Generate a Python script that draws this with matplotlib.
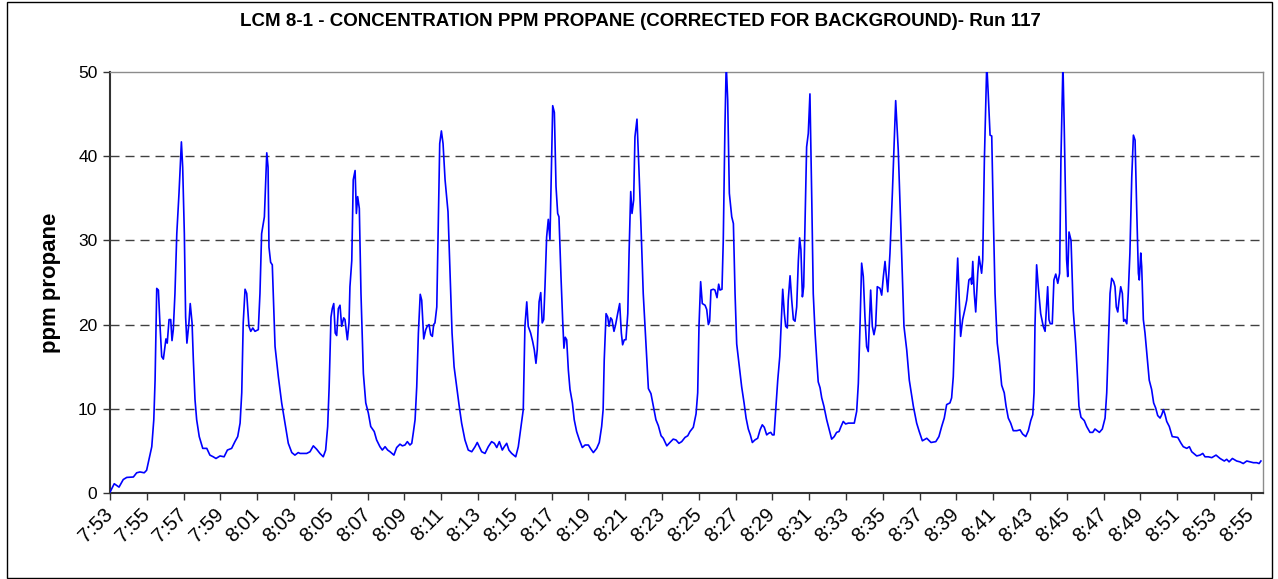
import matplotlib
matplotlib.use("Agg")
import matplotlib.pyplot as plt
from matplotlib.patches import Rectangle
from matplotlib.transforms import ScaledTranslation

# minutes after 7:53
t_min = [
0.00,0.23,0.49,0.72,0.91,1.27,1.45,1.63,1.86,1.99,2.27,2.38,2.45,2.54,2.63,2.72,2.81,2.90,2.99,3.04,
3.11,3.21,3.30,3.37,3.44,3.53,3.63,3.75,3.88,3.95,4.04,4.11,4.18,4.29,4.36,4.46,4.53,4.62,4.71,4.85,
5.04,5.26,5.43,5.61,5.76,5.98,6.20,6.38,6.61,6.79,6.94,7.07,7.16,7.24,7.34,7.43,7.55,7.65,7.76,7.88,
8.06,8.15,8.24,8.39,8.52,8.59,8.64,8.73,8.82,8.97,9.15,9.33,9.51,9.69,9.88,10.05,
10.23,10.33,10.69,10.87,11.05,11.23,11.41,11.59,11.72,11.83,11.91,12.01,12.08,12.16,12.24,12.32,12.41,12.50,12.59,12.70,
12.77,12.90,12.99,13.04,13.14,13.22,13.32,13.39,13.46,13.55,13.64,13.77,13.90,14.04,14.17,14.36,14.49,14.67,14.80,14.95,
15.09,15.22,15.43,15.58,15.76,15.89,16.03,16.16,16.30,16.40,16.48,16.58,16.67,16.76,16.86,16.94,17.05,17.16,17.24,17.34,
17.43,17.52,17.59,17.66,17.76,17.84,17.92,18.01,18.10,18.21,18.37,18.48,18.59,18.70,18.84,18.98,19.11,19.29,19.47,19.66,
19.84,19.96,20.07,20.20,20.38,
20.56,20.74,20.89,21.02,21.16,21.32,21.43,21.56,21.68,21.83,22.05,22.19,22.34,22.46,22.55,22.65,22.73,22.86,22.97,23.06,
23.15,23.22,23.32,23.41,23.49,23.57,23.64,23.73,23.82,23.91,23.98,24.06,24.15,24.24,24.33,24.40,24.51,24.60,24.67,24.74,
24.82,24.91,25.00,25.13,25.23,25.36,25.51,25.67,25.82,26.00,26.14,26.27,26.45,26.59,26.72,26.80,26.86,26.96,27.05,27.12,
27.21,27.28,27.39,27.48,27.59,27.70,27.79,27.86,27.95,28.04,28.14,28.21,28.30,28.37,28.46,28.53,28.64,28.75,28.86,28.98,
29.11,29.26,29.40,29.53,29.67,29.80,29.95,30.07,30.26,30.43,30.61,30.76,
30.92,31.07,31.25,31.40,31.52,31.70,31.85,31.94,32.01,32.10,32.19,32.34,32.43,32.52,32.59,32.66,32.79,32.88,32.99,33.08,
33.15,33.26,33.33,33.42,33.49,33.57,33.66,33.79,33.88,33.97,34.06,34.18,34.33,34.46,34.57,34.69,34.80,34.91,35.05,35.20,
35.33,35.45,35.56,35.69,35.80,35.91,36.00,36.09,36.18,36.29,36.40,36.47,36.56,36.65,36.72,36.81,36.86,36.96,37.05,37.14,
37.23,37.32,37.41,37.48,37.55,37.63,37.70,37.77,37.86,37.95,38.04,38.14,38.22,38.32,38.41,38.49,38.59,38.68,38.80,38.95,
39.09,39.22,39.36,39.49,39.62,39.73,39.85,39.98,40.13,40.31,40.45,40.58,40.67,40.76,40.85,40.94,41.03,41.12,41.21,41.34,
41.43,41.52,41.61,41.70,41.85,41.94,42.03,42.12,42.27,42.39,42.52,42.70,42.84,42.99,43.15,43.30,43.44,43.66,43.84,43.98,
44.15,44.39,44.62,44.88,45.05,45.20,45.34,45.47,45.65,45.74,45.83,45.92,46.07,46.23,46.34,46.47,46.56,46.68,46.78,46.83,
46.89,46.97,47.05,47.16,47.23,47.37,47.43,47.52,47.65,47.73,47.83,47.92,48.00,48.10,48.22,48.33,48.46,48.60,48.70,48.82,
48.95,49.09,49.28,49.46,49.60,49.77,49.91,50.04,50.15,50.22,50.27,50.36,50.45,50.58,50.72,50.82,50.91,50.96,51.03,51.10,
51.21,51.30,51.40,51.51,51.61,
51.68,51.79,51.86,51.94,51.99,52.05,52.12,52.23,52.35,52.48,52.59,52.66,52.77,52.95,53.08,53.26,53.41,53.53,53.77,53.93,
54.08,54.17,54.26,54.35,54.44,54.55,54.62,54.69,54.77,54.84,54.93,55.02,55.09,55.16,55.26,55.34,55.43,55.53,55.62,55.71,
55.80,55.89,55.94,56.02,56.07,56.16,56.25,56.38,56.48,56.61,56.72,56.83,56.94,57.07,57.16,57.25,57.34,57.43,57.57,57.73,
58.03,58.21,58.33,58.52,58.66,58.79,59.06,59.24,59.39,59.51,59.69,59.88,60.11,60.33,60.56,60.69,60.82,61.00,61.23,61.41,
61.59,61.78,61.96,62.14,62.32,62.45,62.55,
]

ppm = [
0.1,1.1,0.7,1.6,1.85,1.9,2.4,2.5,2.4,2.7,5.5,8.7,13.4,24.3,24.1,19.8,16.2,15.9,17.4,18.3,
17.8,20.6,20.6,18.1,19.4,23.7,30.8,35.6,41.7,38.7,30.8,20.9,17.8,20.2,22.5,20.2,15.8,11.1,8.7,6.7,
5.3,5.3,4.5,4.3,4.1,4.4,4.3,5.1,5.3,6.1,6.7,8.3,11.9,20.2,24.2,23.7,19.8,19.2,19.6,19.2,
19.4,23.7,30.8,32.8,40.4,38.7,29.2,27.4,27.1,17.4,13.8,10.7,8.3,5.9,4.8,4.5,
4.8,4.7,4.7,4.9,5.6,5.2,4.7,4.3,5.1,7.9,12.6,20.9,21.9,22.5,19.0,18.7,21.9,22.3,19.8,20.8,
20.6,18.2,20.2,24.5,27.6,37.2,38.3,33.2,35.2,33.8,23.7,14.2,10.7,9.5,7.9,7.3,6.3,5.5,5.1,5.5,
5.1,4.9,4.5,5.4,5.8,5.6,5.7,6.1,5.7,5.9,7.1,8.7,12.6,19.0,23.6,22.9,18.3,19.4,19.8,20.0,
18.8,18.6,20.0,20.2,22.1,31.6,41.5,43.0,41.5,37.2,33.4,26.1,19.0,15.0,12.6,10.3,8.3,6.3,5.1,4.9,
5.5,6.0,5.5,4.9,4.7,
5.5,6.1,5.9,5.4,6.1,5.1,5.5,5.9,5.1,4.7,4.3,5.5,7.9,9.9,19.8,22.7,19.8,19.0,18.0,17.0,
15.4,17.0,22.7,23.8,20.2,20.6,24.5,30.4,32.5,30.1,37.5,46.0,45.2,36.4,33.2,32.8,25.7,20.6,17.2,18.5,
18.2,14.6,12.3,10.7,8.7,7.3,6.3,5.4,5.7,5.7,5.2,4.8,5.3,6.0,7.9,9.9,15.8,21.3,20.9,19.8,
20.8,20.6,19.2,20.0,21.3,22.5,19.0,17.6,18.2,18.2,21.3,28.5,35.8,33.2,34.8,42.3,44.4,38.3,31.6,23.7,
18.5,12.4,11.8,10.3,8.7,8.0,6.8,6.5,5.6,6.0,6.4,6.3,
5.9,6.1,6.6,6.8,7.3,7.8,9.4,11.9,19.8,25.1,22.5,22.3,21.8,20.0,20.4,24.1,24.2,24.1,23.2,24.8,
24.1,24.2,30.0,43.4,51.0,46.7,35.6,32.8,32.0,23.7,17.7,15.4,12.6,10.7,8.9,7.6,6.9,6.0,6.3,6.5,
7.5,8.1,7.8,6.9,7.1,7.2,6.9,6.9,9.9,13.4,16.2,19.8,24.2,21.3,19.8,19.6,22.9,25.8,22.9,20.6,
20.4,22.1,27.6,30.3,28.9,23.3,24.5,31.6,41.1,42.7,47.4,34.8,23.7,19.0,15.8,13.2,12.5,11.3,10.3,8.7,
7.5,6.4,6.7,7.2,7.3,7.9,8.5,8.2,8.3,8.3,8.3,9.7,13.0,19.8,27.3,25.7,20.9,17.4,16.8,24.1,
19.8,18.8,19.8,24.5,24.3,23.5,25.7,27.5,23.9,28.5,35.6,46.6,40.7,30.8,19.8,17.0,13.4,10.3,8.3,7.3,
6.2,6.5,6.0,6.1,6.7,7.9,8.9,10.5,10.7,11.3,13.8,19.8,27.9,18.6,20.6,21.9,22.9,25.3,25.5,24.8,
27.5,23.7,21.5,26.1,28.1,26.1,27.7,39.5,51.0,47.4,42.5,42.4,33.6,23.7,17.8,15.8,12.8,11.9,10.3,8.9,
8.3,7.4,7.4,7.5,7.0,6.7,7.4,8.6,9.3,11.9,19.8,27.1,24.5,21.3,19.8,19.2,22.5,24.5,20.6,20.1,
20.1,25.3,26.0,24.9,26.1,
39.5,51.0,43.5,33.6,27.7,25.7,31.0,30.0,21.7,17.8,13.4,10.3,9.0,8.6,7.9,7.2,7.2,7.6,7.2,7.6,
8.9,11.9,17.8,23.7,25.5,25.1,24.5,22.1,21.5,22.9,24.5,23.7,20.4,20.6,20.1,23.7,28.5,37.5,42.5,41.9,
33.6,26.1,25.3,28.5,26.9,20.6,19.0,15.8,13.4,12.3,10.7,10.1,9.2,8.9,9.3,9.9,9.3,8.5,7.9,6.7,
6.6,5.9,5.5,5.3,5.5,4.9,4.4,4.5,4.7,4.3,4.3,4.2,4.5,4.1,3.8,4.0,3.7,4.1,3.8,3.7,
3.5,3.8,3.7,3.6,3.6,3.5,3.8,
]

tick_labels = ["7:53", "7:55", "7:57", "7:59", "8:01", "8:03", "8:05", "8:07", "8:09",
               "8:11", "8:13", "8:15", "8:17", "8:19", "8:21", "8:23", "8:25", "8:27",
               "8:29", "8:31", "8:33", "8:35", "8:37", "8:39", "8:41", "8:43", "8:45",
               "8:47", "8:49", "8:51", "8:53", "8:55"]
y_ticks = [0, 10, 20, 30, 40, 50]

title = "LCM 8-1 - CONCENTRATION PPM PROPANE (CORRECTED FOR BACKGROUND)- Run 117"

plt.rcParams['font.family'] = ['Liberation Sans', 'DejaVu Sans']

W, H = 1278, 579
fig = plt.figure(figsize=(W / 100, H / 100), dpi=100)
fig.patch.set_facecolor('white')

# chart area border
fig.add_artist(Rectangle((7 / W, 1 / H), (1272 - 7) / W, (577 - 1) / H,
                         transform=fig.transFigure, fill=False,
                         edgecolor='black', linewidth=1.0))

left, right, top, bottom = 110, 1262.5, 72, 493
ax = fig.add_axes([left / W, (H - bottom) / H, (right - left) / W, (bottom - top) / H])

ax.plot(t_min, ppm, color='#0000FF', linewidth=1.2, zorder=3)

x_max = (right - left) / 18.4
ax.set_xlim(0, x_max)
ax.set_ylim(0, 50)

tick_pos = [2 * i for i in range(len(tick_labels))]
ax.set_xticks(tick_pos)
ax.set_xticklabels(tick_labels, rotation=45, ha='right', va='center',
                   rotation_mode='anchor', fontsize=14.5)
shift = ScaledTranslation(-4 / 100, 0, fig.dpi_scale_trans)
for lab in ax.get_xticklabels():
    lab.set_transform(lab.get_transform() + shift)
ax.set_yticks(y_ticks)
ax.set_yticklabels([str(v) for v in y_ticks], fontsize=12.5)

ax.tick_params(axis='x', direction='out', length=5, width=1, color='#333333', pad=8)
ax.tick_params(axis='y', direction='out', length=5, width=1, color='#333333', pad=4)

for v in y_ticks[1:-1]:
    ax.axhline(v, color='#404040', linestyle=(0, (6.5, 4.3)), linewidth=1.0, zorder=1)

for s in ['top', 'right']:
    ax.spines[s].set_color('#8c8c8c')
    ax.spines[s].set_linewidth(1.0)
for s in ['left', 'bottom']:
    ax.spines[s].set_color('#333333')
    ax.spines[s].set_linewidth(1.5)

ax.set_ylabel("ppm propane", fontsize=16, fontweight='bold', labelpad=12)

fig.text(640 / W, 1 - 22 / H, title, ha='center', va='center',
         fontsize=13.5, fontweight='bold')

fig.savefig("out.png", dpi=100, facecolor='white')
